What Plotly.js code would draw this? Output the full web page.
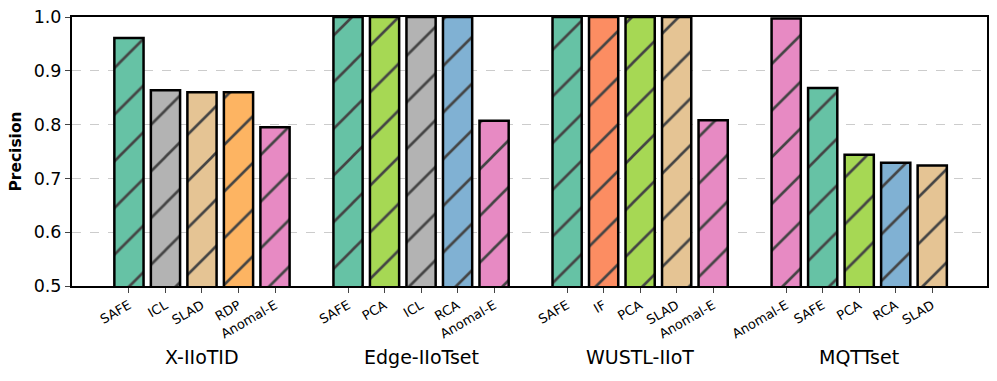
<!DOCTYPE html>
<html>
<head>
<meta charset="utf-8">
<script src="https://cdn.plot.ly/plotly-3.0.1.min.js"></script>
<style>
  html, body { margin: 0; padding: 0; background: #fff; }
  #chart { width: 997px; height: 381px; }
</style>
</head>
<body>
<div id="chart"></div>
<script>
// datasets and the methods compared on each
const datasets = ['X-IIoTID', 'Edge-IIoTset', 'WUSTL-IIoT', 'MQTTset'];
const methodsX = ['SAFE', 'ICL', 'SLAD', 'RDP', 'Anomal-E'];
const methodsEdge = ['SAFE', 'PCA', 'ICL', 'RCA', 'Anomal-E'];
const methodsWustl = ['SAFE', 'IF', 'PCA', 'SLAD', 'Anomal-E'];
const methodsMqtt = ['Anomal-E', 'SAFE', 'PCA', 'RCA', 'SLAD'];

// precision values
const precX = [0.961, 0.864, 0.860, 0.860, 0.795];
const precEdge = [1.0, 1.0, 1.0, 1.0, 0.807];
const precWustl = [1.0, 1.0, 1.0, 1.0, 0.808];
const precMqtt = [0.997, 0.868, 0.744, 0.729, 0.724];

const methodColors = {
  'SAFE': '#66c2a5',
  'ICL': '#b3b3b3',
  'SLAD': '#e5c494',
  'RDP': '#fdb462',
  'Anomal-E': '#e78ac3',
  'PCA': '#a6d854',
  'RCA': '#80b1d3',
  'IF': '#fc8d62'
};

const groups = [
  [methodsX, precX],
  [methodsEdge, precEdge],
  [methodsWustl, precWustl],
  [methodsMqtt, precMqtt]
];

const slot = 6; // 5 bars + one empty slot between datasets
var traces = [];
var tickvals = [];
var ticktext = [];
var annotations = [];

groups.forEach(function (g, gi) {
  var names = g[0], vals = g[1];
  var xs = names.map(function (_, i) { return gi * slot + i; });
  var cols = names.map(function (n) { return methodColors[n]; });
  tickvals = tickvals.concat(xs);
  ticktext = ticktext.concat(names);
  traces.push({
    type: 'bar',
    x: xs,
    y: vals,
    base: 0,
    width: 0.8,
    showlegend: false,
    hoverinfo: 'x+y',
    marker: {
      color: cols,
      line: { color: 'black', width: 2.5 },
      pattern: {
        shape: '/', size: 33, solidity: 0.08,
        fillmode: 'overlay', bgcolor: cols, fgcolor: 'black', fgopacity: 1
      }
    }
  });
  annotations.push({
    x: gi * slot + 2,
    y: -0.265,
    xref: 'x',
    yref: 'paper',
    text: datasets[gi],
    showarrow: false,
    yanchor: 'middle',
    font: { size: 19, color: 'black' }
  });
});

var layout = {
  width: 997,
  height: 381,
  margin: { l: 72, r: 10, t: 17, b: 95 },
  paper_bgcolor: 'white',
  plot_bgcolor: 'white',
  font: { family: 'DejaVu Sans, sans-serif', color: 'black' },
  bargap: 0,
  xaxis: {
    range: [-1.56, 23.5],
    tickvals: tickvals,
    ticktext: ticktext,
    tickangle: -30,
    tickfont: { size: 13 },
    ticks: 'outside',
    ticklen: 5,
    tickwidth: 1,
    showline: true,
    linewidth: 2,
    linecolor: 'black',
    mirror: true,
    showgrid: false,
    zeroline: false
  },
  yaxis: {
    range: [0.5, 1.0],
    dtick: 0.1,
    tickformat: '.1f',
    tickfont: { size: 17.5 },
    ticks: 'outside',
    ticklen: 5,
    tickwidth: 1,
    showline: true,
    linewidth: 2,
    linecolor: 'black',
    mirror: true,
    showgrid: true,
    gridcolor: '#cccccc',
    griddash: 'dash',
    gridwidth: 1,
    zeroline: false,
    title: { text: '<b>Precision</b>', font: { size: 15.5 }, standoff: 8 }
  },
  annotations: annotations
};

Plotly.newPlot('chart', traces, layout, { displayModeBar: false, staticPlot: true });
</script>
</body>
</html>
